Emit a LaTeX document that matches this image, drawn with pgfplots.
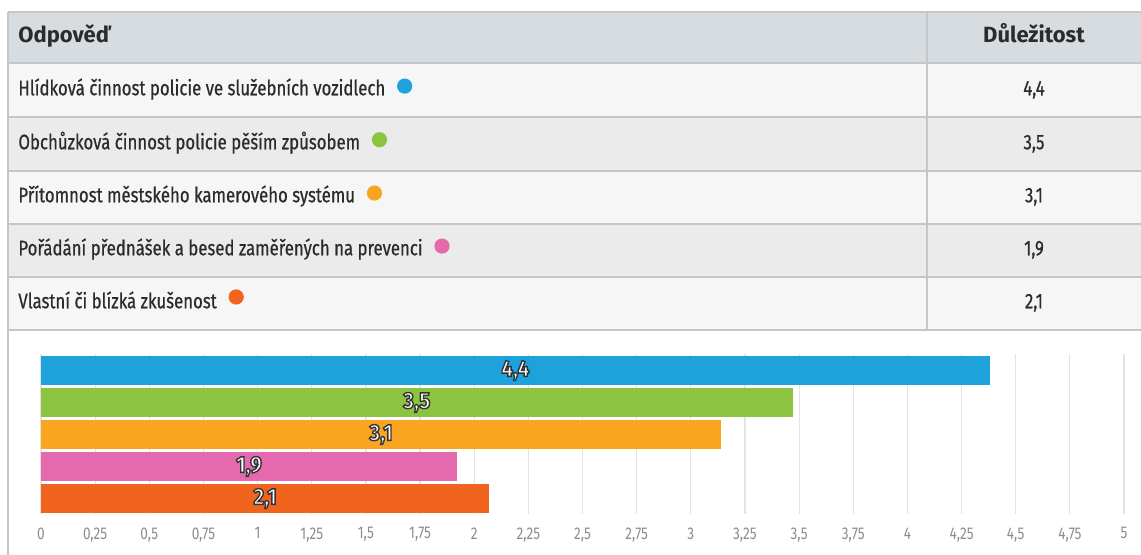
\documentclass[border=0pt]{standalone}
\usepackage{pgfplots}
\pgfplotsset{compat=1.18}
\usepackage{pgfplotstable}
\usepackage{fontspec}
\setmainfont{Fira Sans}
\newfontfamily\cond[FakeStretch=0.8, FakeBold=0.6]{Fira Sans}
\newfontfamily\tickf[FakeStretch=0.8]{Fira Sans}
\newfontfamily\headf{Fira Sans}
\newfontfamily\outl[FakeStretch=0.9, FakeBold=6]{Fira Sans Bold}
% white text whose (fake bold) stroke is dark: an outline
\newcommand\outlined[1]{{\color{white}\special{pdf:code 0.2 0.2 0.22 RG}\outl #1}}

\definecolor{cblue}{HTML}{1EA2DC}
\definecolor{cgreen}{HTML}{8CC43F}
\definecolor{corange}{HTML}{F9A51F}
\definecolor{cpink}{HTML}{E56AAD}
\definecolor{cred}{HTML}{F0641E}
\definecolor{headbg}{HTML}{D7DCE0}
\definecolor{rowa}{HTML}{F6F6F6}
\definecolor{rowb}{HTML}{EBEBEB}
\definecolor{rule}{HTML}{C3C7CA}
\definecolor{txt}{HTML}{2B2B2B}
\definecolor{gridc}{HTML}{E3E3E3}
\definecolor{tickc}{HTML}{8C8C8C}

% values; labels as shown
\pgfplotstableread{
y v lab
0 4.38 4,4
1 3.47 3,5
2 3.14 3,1
3 1.92 1,9
4 2.07 2,1
}\datatable

\begin{document}
\begin{tikzpicture}[x=0.5pt,y=0.5pt]
\path[use as bounding box] (0,0) rectangle (1141,555);

% table: header and rows (pixel coords, y measured up from bottom)
\fill[headbg] (8,555-12) rectangle (1141,555-63);
\fill[rowa] (8,555-63) rectangle (1141,555-117);
\fill[rowb] (8,555-117) rectangle (1141,555-171);
\fill[rowa] (8,555-171) rectangle (1141,555-224);
\fill[rowb] (8,555-224) rectangle (1141,555-277);
\fill[rowa] (8,555-277) rectangle (1141,555-330);
\draw[rule, line width=0.8pt] (8,555-12) -- (1141,555-12);
\foreach \yy in {63,117,171,224,277,330}
  \draw[rule, line width=0.6pt] (8,555-\yy) -- (1141,555-\yy);
\draw[rule, line width=0.8pt] (8,555-12) -- (8,0);
\draw[rule, line width=0.6pt] (927,555-12) -- (927,555-330);

\begin{scope}[every node/.style={inner sep=0pt, text=txt, font=\cond\fontsize{10.5}{12}\selectfont}]
\node[anchor=mid west, font=\headf\bfseries\fontsize{11}{13}\selectfont] at (18,555-37) {Odpověď};
\node[anchor=mid, font=\headf\bfseries\fontsize{11}{13}\selectfont] at (1034,555-37) {Důležitost};

\node[anchor=mid west] (t1) at (18,555-90) {Hlídková činnost policie ve služebních vozidlech};
\node[anchor=mid west] (t2) at (18,555-144) {Obchůzková činnost policie pěším způsobem};
\node[anchor=mid west] (t3) at (18,555-197) {Přítomnost městského kamerového systému};
\node[anchor=mid west] (t4) at (18,555-250) {Pořádání přednášek a besed zaměřených na prevenci};
\node[anchor=mid west] (t5) at (18,555-303) {Vlastní či blízká zkušenost};

\node[anchor=mid] at (1034,555-90) {4,4};
\node[anchor=mid] at (1034,555-144) {3,5};
\node[anchor=mid] at (1034,555-197) {3,1};
\node[anchor=mid] at (1034,555-250) {1,9};
\node[anchor=mid] at (1034,555-303) {2,1};
\end{scope}
\fill[cblue] ([xshift=9.5pt,yshift=1.5pt]t1.east) circle (3.8pt);
\fill[cgreen] ([xshift=9.5pt,yshift=1.5pt]t2.east) circle (3.8pt);
\fill[corange] ([xshift=9.5pt,yshift=1.5pt]t3.east) circle (3.8pt);
\fill[cpink] ([xshift=9.5pt,yshift=1.5pt]t4.east) circle (3.8pt);
\fill[cred] ([xshift=9.5pt,yshift=1.5pt]t5.east) circle (3.8pt);

\coordinate (axisorigin) at (41,40.5);
\begin{axis}[
    at={(axisorigin)}, anchor=south west,
    scale only axis,
    width=541.5pt, height=80pt,
    xmin=0, xmax=5,
    ymin=-0.5, ymax=4.5,
    y dir=reverse,
    axis line style={draw=none},
    major tick length=0pt,
    xtick={0,0.25,0.5,0.75,1,1.25,1.5,1.75,2,2.25,2.5,2.75,3,3.25,3.5,3.75,4,4.25,4.5,4.75,5},
    ytick=\empty,
    xmajorgrids,
    grid style={gridc, line width=0.6pt},
    /pgf/number format/use comma,
    /pgf/number format/assume math mode=true,
    xticklabel style={font=\tickf\fontsize{8.5}{10}\selectfont, text=tickc, yshift=-3pt},
    clip=false,
]
\addplot[xbar, bar width=14.5pt, bar shift=0pt, fill=cblue, draw=none] coordinates {(4.38,0)};
\addplot[xbar, bar width=14.5pt, bar shift=0pt, fill=cgreen, draw=none] coordinates {(3.47,1)};
\addplot[xbar, bar width=14.5pt, bar shift=0pt, fill=corange, draw=none] coordinates {(3.14,2)};
\addplot[xbar, bar width=14.5pt, bar shift=0pt, fill=cpink, draw=none] coordinates {(1.92,3)};
\addplot[xbar, bar width=14.5pt, bar shift=0pt, fill=cred, draw=none] coordinates {(2.07,4)};
% value labels centred in each bar
\addplot[draw=none, mark=none, point meta=explicit symbolic,
    nodes near coords={\outlined{\pgfplotspointmeta}},
    every node near coord/.append style={anchor=center, inner sep=0pt,
      font=\fontsize{11.5}{13}\selectfont}]
  table[x expr=\thisrow{v}/2, y=y, meta=lab] {\datatable};
\end{axis}
\end{tikzpicture}
\end{document}
